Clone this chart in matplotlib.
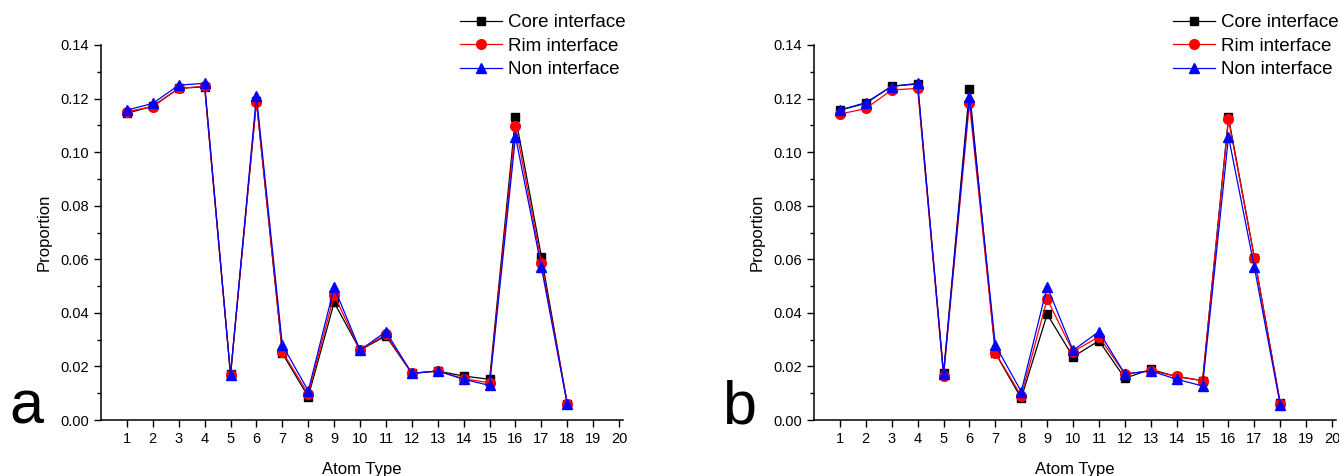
import numpy as np
import matplotlib.pyplot as plt

plt.rcParams['font.family'] = ['Liberation Sans', 'DejaVu Sans']

atom_type = np.arange(1, 19)

# panel a
core_a = [0.1145, 0.1172, 0.1238, 0.1244, 0.0170, 0.1190, 0.0249, 0.0087, 0.0439,
          0.0261, 0.0314, 0.0174, 0.0183, 0.0164, 0.0152, 0.1132, 0.0610, 0.0060]
rim_a = [0.1151, 0.1170, 0.1238, 0.1246, 0.0168, 0.1188, 0.0255, 0.0097, 0.0467,
         0.0261, 0.0320, 0.0174, 0.0183, 0.0154, 0.0139, 0.1099, 0.0587, 0.0060]
non_a = [0.1157, 0.1182, 0.1250, 0.1257, 0.0168, 0.1210, 0.0280, 0.0109, 0.0495,
         0.0261, 0.0330, 0.0174, 0.0183, 0.0152, 0.0129, 0.1058, 0.0570, 0.0058]

# panel b
core_b = [0.1157, 0.1182, 0.1247, 0.1254, 0.0174, 0.1234, 0.0250, 0.0081, 0.0395,
          0.0236, 0.0296, 0.0156, 0.0189, 0.0162, 0.0147, 0.1130, 0.0606, 0.0062]
rim_b = [0.1142, 0.1163, 0.1232, 0.1238, 0.0164, 0.1182, 0.0251, 0.0090, 0.0451,
         0.0255, 0.0311, 0.0172, 0.0184, 0.0163, 0.0147, 0.1122, 0.0605, 0.0060]
non_b = [0.1157, 0.1185, 0.1245, 0.1257, 0.0170, 0.1207, 0.0280, 0.0106, 0.0498,
         0.0260, 0.0330, 0.0172, 0.0183, 0.0152, 0.0127, 0.1058, 0.0570, 0.0055]

labels = ["Core interface", "Rim interface", "Non interface"]
panels = [("a", core_a, rim_a, non_a), ("b", core_b, rim_b, non_b)]

fig = plt.figure(figsize=(13.39, 4.76), dpi=100)
lefts = [101 / 1339, 814 / 1339]

for (name, core, rim, non), left in zip(panels, lefts):
    ax = fig.add_axes([left, 56 / 476, 522 / 1339, 375 / 476])
    ax.plot(atom_type, core, '-s', color='black', lw=0.9, ms=6, label=labels[0])
    ax.plot(atom_type, rim, '-o', color='red', lw=0.9, ms=7, label=labels[1])
    ax.plot(atom_type, non, '-^', color='blue', lw=0.9, ms=7.5, label=labels[2])

    ax.set_xlim(0, 20.15)
    ax.set_ylim(0, 0.14)
    ax.set_xticks(range(1, 21))
    ax.set_yticks(np.arange(0, 0.141, 0.02))
    ax.set_yticks(np.arange(0.01, 0.14, 0.02), minor=True)
    ax.yaxis.set_major_formatter(plt.FormatStrFormatter('%.2f'))
    ax.tick_params(direction='out', length=5, width=1, labelsize=10.5)
    ax.tick_params(which='minor', direction='out', length=3, width=1)
    ax.spines['top'].set_visible(False)
    ax.spines['right'].set_visible(False)
    for s in ['left', 'bottom']:
        ax.spines[s].set_linewidth(1.1)
    ax.set_xlabel("Atom Type", fontsize=12, labelpad=12)
    ax.set_ylabel("Proportion", fontsize=12, labelpad=6)

    ax.text(left - 92 / 1339, 68 / 476, name, transform=fig.transFigure,
            fontsize=44, ha='left', va='center')

    ax.legend(loc='upper left', bbox_to_anchor=(left + 359 / 1339, 1 - 14 / 476),
              bbox_transform=fig.transFigure, frameon=False, fontsize=13.5,
              handlelength=2.25, handletextpad=0.3, labelspacing=0.34,
              borderpad=0, borderaxespad=0)

fig.savefig("out.png", dpi=100)
